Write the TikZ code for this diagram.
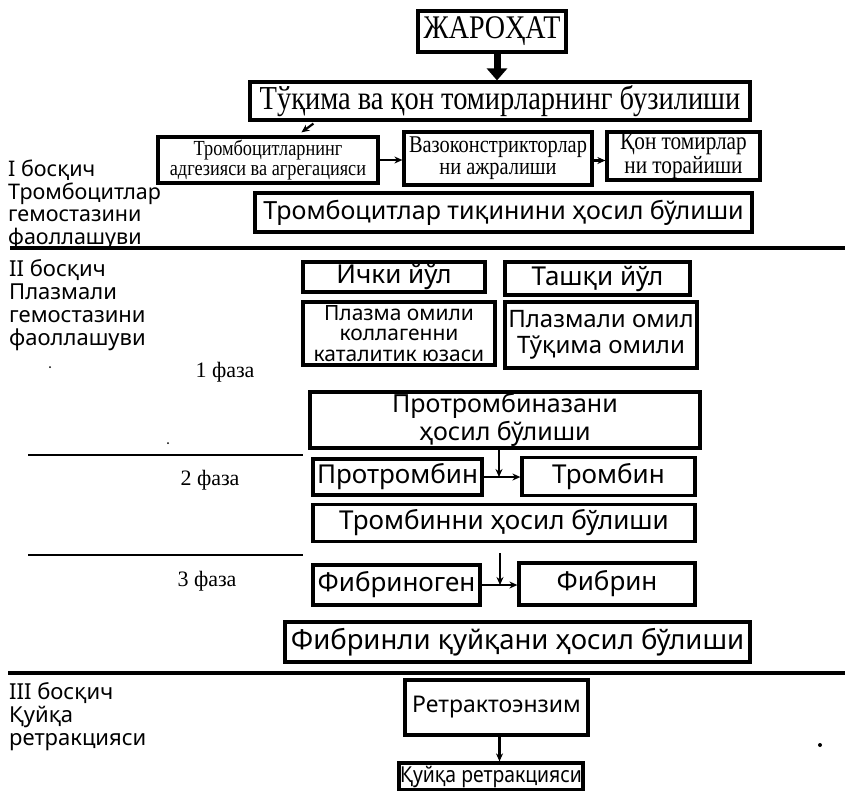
\documentclass[tikz,border=0pt]{standalone}
\usepackage{fontspec}
\setmainfont{Liberation Serif}
\newfontfamily\serc[FakeStretch=0.85]{Liberation Serif}
\newfontfamily\sansf{Noto Sans}
\newfontfamily\sansc[FakeStretch=0.88]{Noto Sans}
\usetikzlibrary{arrows.meta}
\begin{document}
\begin{tikzpicture}[x=1pt,y=-1pt,
  box/.style={draw, line width=3.2pt, inner sep=1pt, align=center, anchor=center},
  arr/.style={line width=2.2pt, -{Stealth[length=8pt,width=7pt]}},
  sep/.style={line width=4pt},
  phase/.style={line width=2.2pt},
  lab/.style={anchor=north west, align=left, inner sep=0pt}
]
\useasboundingbox (0,0) rectangle (851,790);

% ---------- stage I ----------
\node[box, minimum width=148pt, minimum height=41pt, font=\serc\fontsize{33}{35}\selectfont] (zhar) at (492,31.5) {ЖАРОҲАТ};
\node[box, minimum width=500pt, minimum height=38pt, font=\serc\fontsize{33.5}{35}\selectfont] (tuq) at (500,101) {Тўқима ва қон томирларнинг бузилиши};
\node[box, minimum width=220pt, minimum height=46pt, font=\serc\fontsize{21.5}{20}\selectfont] (tr1) at (268,160) {Тромбоцитларнинг\\адгезияси ва агрегацияси};
\node[box, minimum width=188pt, minimum height=53pt, font=\serc\fontsize{24}{22}\selectfont] (vazo) at (498,158.5) {Вазоконстрикторлар\\ни ажралиши};
\node[box, minimum width=153pt, minimum height=48pt, font=\serc\fontsize{25}{21}\selectfont] (qon) at (683.5,156) {Қон томирлар\\ни торайиши};
\node[box, minimum width=497pt, minimum height=39pt, font=\sansf\fontsize{25}{27}\selectfont] (tiq) at (503.5,212.5) {Тромбоцитлар тиқинини ҳосил бўлиши};

\draw[line width=7pt, -{Triangle[length=12pt,width=20pt]}] ([xshift=5pt]zhar.south) -- ([xshift=5pt]zhar.south |- tuq.north);
\draw[arr] ([xshift=65pt,yshift=-2pt]tuq.south west) -- ([xshift=145pt,yshift=3pt]tr1.north west);
\draw[arr] (tr1.east) -- (tr1.east -| vazo.west);
\draw[arr] ([yshift=-2pt]vazo.east) -- ([yshift=-2pt]vazo.east -| qon.west);

\node[lab, font=\sansf\fontsize{21.5}{22.5}\selectfont] (st1) at (8,160) {I босқич\\Тромбоцитлар\\гемостазини\\фаоллашуви};
\coordinate (s1a) at (10,248);
\coordinate (s1b) at (845,248);
\draw[sep] (s1a) -- (s1b);

% ---------- stage II ----------
\node[lab, font=\sansf\fontsize{22}{23}\selectfont] (st2) at (9,259) {II босқич\\Плазмали\\гемостазини\\фаоллашуви};
\node[box, minimum width=182pt, minimum height=30pt, font=\sansf\fontsize{26}{28}\selectfont] (ich) at (394,277) {Ички йўл};
\node[box, minimum width=185pt, minimum height=33pt, font=\sansf\fontsize{26}{28}\selectfont] (tash) at (597.5,278.5) {Ташқи йўл};
\node[box, minimum width=192pt, minimum height=63pt, font=\sansf\fontsize{21}{20.5}\selectfont] (plz) at (399,333.5) {Плазма омили\\коллагенни\\каталитик юзаси};
\node[box, minimum width=192pt, minimum height=66pt, font=\sansf\fontsize{24}{26}\selectfont] (plzm) at (601,335) {Плазмали омил\\Тўқима омили};

\node[font=\fontsize{22}{24}\selectfont, inner sep=0pt] (f1) at (225,372) {1 фаза};
\node[box, minimum width=390pt, minimum height=56pt, font=\sansf\fontsize{25}{28}\selectfont] (ptz) at (505,420) {Протромбиназани\\ҳосил бўлиши};
\coordinate (l2a) at (28,455);
\coordinate (l2b) at (303,455);
\draw[phase] (l2a) -- (l2b);

\node[font=\fontsize{22}{24}\selectfont, inner sep=0pt] (f2) at (210,480) {2 фаза};
\node[box, minimum width=169pt, minimum height=36pt, font=\sansf\fontsize{26}{28}\selectfont] (ptr) at (397.5,477) {Протромбин};
\node[box, minimum width=173pt, minimum height=38pt, font=\sansf\fontsize{26}{28}\selectfont] (trb) at (608.5,476.5) {Тромбин};
\coordinate (j2) at (499,477);
\draw[arr] (ptz.south -| j2) -- (j2);
\draw[arr] (ptr.east) -- (ptr.east -| trb.west);
\node[box, minimum width=382pt, minimum height=37pt, font=\sansf\fontsize{26}{28}\selectfont] (trn) at (504,523) {Тромбинни ҳосил бўлиши};
\coordinate (l3a) at (28,555);
\coordinate (l3b) at (303,555);
\draw[phase] (l3a) -- (l3b);

\node[font=\fontsize{22}{24}\selectfont, inner sep=0pt] (f3) at (207,581) {3 фаза};
\node[box, minimum width=167pt, minimum height=40pt, font=\sansf\fontsize{26}{28}\selectfont] (fbg) at (396.5,585) {Фибриноген};
\node[box, minimum width=176pt, minimum height=42pt, font=\sansf\fontsize{26}{28}\selectfont] (fbn) at (607,584) {Фибрин};
\coordinate (j3a) at (500,553);
\coordinate (j3b) at (500,585);
\draw[arr] (j3a) -- (j3b);
\draw[arr] (fbg.east) -- (fbg.east -| fbn.west);
\node[box, minimum width=465pt, minimum height=40pt, font=\sansf\fontsize{27.5}{29}\selectfont] (fbl) at (517.5,642) {Фибринли қуйқани ҳосил бўлиши};

\coordinate (s2a) at (8,673);
\coordinate (s2b) at (845,673);
\draw[sep] (s2a) -- (s2b);

% ---------- stage III ----------
\node[lab, font=\sansf\fontsize{22}{23}\selectfont] (st3) at (9,682) {III босқич\\Қуйқа\\ретракцияси};
\node[box, minimum width=183pt, minimum height=55pt, font=\sansf\fontsize{23}{25}\selectfont] (ret) at (496.5,707.5) {Ретрактоэнзим};
\node[box, minimum width=184pt, minimum height=27pt, inner sep=0pt, font=\sansc\fontsize{22}{24}\selectfont] (quy) at (491,776.5) {Қуйқа ретракцияси};
\draw[arr] ([xshift=3pt]ret.south) -- ([xshift=3pt]ret.south |- quy.north);

% scan specks
\fill (820,745) circle (2pt);
\fill (50,367) circle (1pt);
\fill (168,443) circle (1pt);
\end{tikzpicture}
\end{document}
